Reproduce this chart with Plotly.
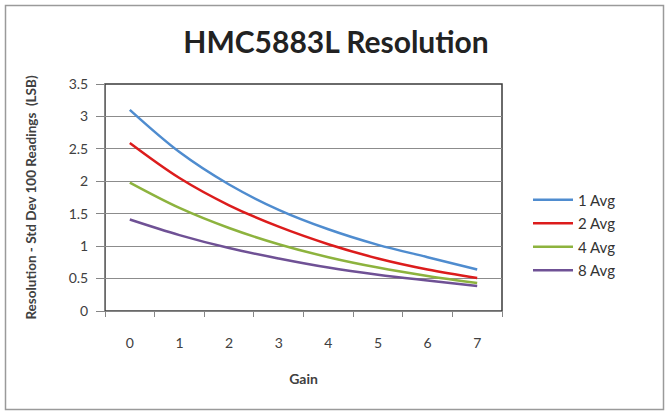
import plotly.graph_objects as go

gain = ["0", "1", "2", "3", "4", "5", "6", "7"]
avg1 = [3.10, 2.45, 1.95, 1.56, 1.26, 1.02, 0.83, 0.64]
avg2 = [2.59, 2.05, 1.63, 1.30, 1.03, 0.81, 0.64, 0.51]
avg4 = [1.98, 1.59, 1.28, 1.03, 0.83, 0.67, 0.54, 0.43]
avg8 = [1.41, 1.17, 0.97, 0.81, 0.67, 0.56, 0.47, 0.385]
names = ["1 Avg", "2 Avg", "4 Avg", "8 Avg"]
colors = ["#4F8CCF", "#DC1C1C", "#8DB33E", "#6F5195"]

FONT = "Lato"
fig = go.Figure()
for i, (n, ys, c) in enumerate(zip(names, [avg1, avg2, avg4, avg8], colors)):
    fig.add_trace(go.Scatter(
        x=gain, y=ys, name=n, mode="lines", legendgroup=f"g{i}",
        line=dict(color=c, width=2.5, shape="spline", smoothing=1.0),
    ))

W, H = 666, 413
L, R, T, B = 105, 502, 84, 311
pw, ph = R - L, B - T

def px(x):
    return (x - L) / pw

def py(y):
    return (B - y) / ph

fig.update_layout(
    width=W, height=H,
    margin=dict(l=L, r=W - R, t=T, b=H - B),
    paper_bgcolor="white", plot_bgcolor="white",
    font=dict(family=FONT, size=13, color="#404040"),
    title=dict(text="<b>HMC5883L Resolution</b>", x=px(336), xref="paper", xanchor="center",
               y=1 - 42 / H, yanchor="middle",
               font=dict(family=FONT, size=30, color="#222222")),
    showlegend=True,
    legend=dict(x=px(528), xanchor="left", y=py(235), yanchor="middle",
                font=dict(family=FONT, size=15, color="#333333"),
                tracegroupgap=1, itemwidth=40, bgcolor="rgba(0,0,0,0)"),
    xaxis=dict(
        type="category", tickson="boundaries", ticks="outside", ticklen=5,
        tickcolor="#868686", showline=True, linecolor="#868686", linewidth=1,
        showgrid=False, ticklabelstandoff=19,
        tickfont=dict(family=FONT, size=14, color="#404040"),
        title=dict(text="<b>Gain</b>", standoff=24, font=dict(family=FONT, size=14, color="#404040")),
        range=[-0.5, 7.5],
    ),
    yaxis=dict(
        range=[0, 3.5], dtick=0.5, tick0=0, ticks="outside", ticklen=8,
        tickcolor="#868686", showline=True, linecolor="#868686", linewidth=1,
        showgrid=True, gridcolor="#8C8C8C", gridwidth=1, zeroline=False,
        ticklabelstandoff=5,
        tickfont=dict(family=FONT, size=14, color="#404040"),
        title=dict(text="<b>Resolution - Std Dev 100 Readings  (LSB)</b>", standoff=28,
                   font=dict(family=FONT, size=13.5, color="#404040")),
    ),
    shapes=[
        dict(type="rect", xref="paper", yref="paper", x0=0, x1=1, y0=0, y1=1,
             line=dict(color="#3A3A3A", width=1.5), layer="below"),
        dict(type="rect", xref="paper", yref="paper", x0=px(5.5), x1=px(663.5), y0=py(409.5), y1=py(5.5),
             line=dict(color="#9A9A9A", width=1.5), layer="below"),
    ],
)

fig.write_html("out.html", config={"displayModeBar": False},
               post_script="document.body.style.margin='0px';")
